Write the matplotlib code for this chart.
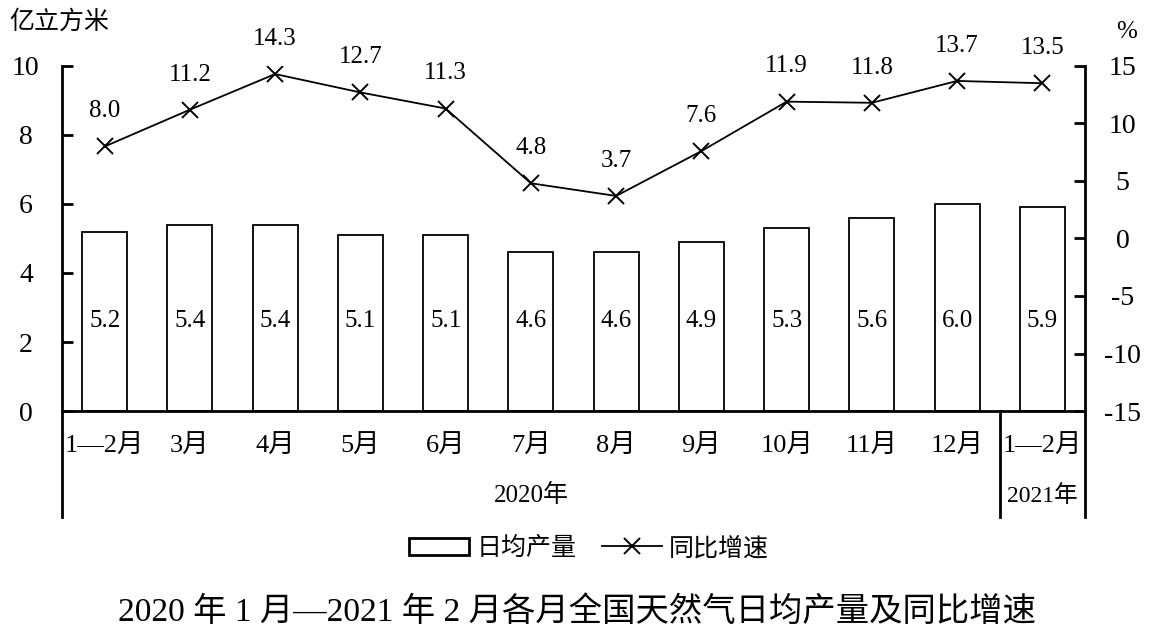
import matplotlib
matplotlib.use("Agg")
import matplotlib.pyplot as plt
import numpy as np
from matplotlib.patches import Rectangle
from matplotlib.lines import Line2D

plt.rcParams['font.family'] = ['Liberation Serif', 'Noto Sans CJK SC']
plt.rcParams['axes.unicode_minus'] = False

months = ['1—2月', '3月', '4月', '5月', '6月', '7月', '8月', '9月', '10月', '11月', '12月', '1—2月']
output = [5.2, 5.4, 5.4, 5.1, 5.1, 4.6, 4.6, 4.9, 5.3, 5.6, 6.0, 5.9]   # 亿立方米
growth = [8.0, 11.2, 14.3, 12.7, 11.3, 4.8, 3.7, 7.6, 11.9, 11.8, 13.7, 13.5]  # %
years = ['2020年', '2021年']
left_ticks = [0, 2, 4, 6, 8, 10]
right_ticks = [-15, -10, -5, 0, 5, 10, 15]

fig = plt.figure(figsize=(11.55, 6.4), dpi=100)
ax = fig.add_axes([0.0537, 0.3578, 0.8857, 0.5391])
ax2 = ax.twinx()

x = np.arange(len(months))
ax.bar(x, output, width=0.53, facecolor='white', edgecolor='black', linewidth=1.3, zorder=2)
for xi, v in zip(x, output):
    ax.text(xi, 2.6, f'{v:.1f}', ha='center', va='center', fontsize=18)

ax2.plot(x, growth, color='black', linewidth=1.3, marker='x', markersize=11,
         markeredgewidth=1.4, zorder=3)
for xi, v in zip(x, growth):
    ax2.text(xi, v + 2.1, f'{v:.1f}', ha='center', va='bottom', fontsize=18)

ax.set_xlim(-0.5, len(months) - 0.5)
ax.set_ylim(0, 10)
ax2.set_ylim(-15, 15)
ax.set_yticks(left_ticks)
ax2.set_yticks(right_ticks)
ax.set_xticks(x)
ax.set_xticklabels(months, fontsize=19)
ax.tick_params(axis='x', length=0, pad=17)
ax.tick_params(axis='y', direction='in', length=8, width=2, labelsize=20, pad=26)
ax2.tick_params(axis='y', direction='in', length=8, width=2, labelsize=20, pad=27)
for lab in ax.get_yticklabels() + ax2.get_yticklabels():
    lab.set_horizontalalignment('center')

for a in (ax, ax2):
    a.spines['top'].set_visible(False)
    for s in ('left', 'right', 'bottom'):
        a.spines[s].set_linewidth(2)
ax.spines['right'].set_visible(False)
ax2.spines['left'].set_visible(False)
ax2.spines['bottom'].set_visible(False)

# group separators below the category axis
trans = ax.get_xaxis_transform()
low = -0.307
for xs in (-0.5, len(months) - 1.5, len(months) - 0.5):
    ax.plot([xs, xs], [0, low], color='black', linewidth=2, transform=trans,
            clip_on=False)
ax.text((-0.5 + len(months) - 1.5) / 2, -0.245, years[0], transform=trans,
        ha='center', va='center', fontsize=18)
ax.text(len(months) - 1, -0.245, years[1], transform=trans,
        ha='center', va='center', fontsize=17)

fig.text(0.008, 0.966, '亿立方米', fontsize=18, ha='left', va='center')
fig.text(0.975, 0.95, '%', fontsize=18, ha='center', va='center')

handles = [Rectangle((0, 0), 1, 1, facecolor='white', edgecolor='black', linewidth=2),
           Line2D([], [], color='black', linewidth=1.3, marker='x', markersize=11,
                  markeredgewidth=1.4)]
fig.legend(handles, ['日均产量', '同比增速'], loc='center', bbox_to_anchor=(0.51, 0.143),
           ncol=2, frameon=False, fontsize=18, handlelength=2.4, columnspacing=1.0,
           handletextpad=0.3)

fig.text(0.5, 0.044, '2020 年 1 月—2021 年 2 月各月全国天然气日均产量及同比增速',
         fontsize=24, fontweight='medium', ha='center', va='center')

fig.savefig('out.png', dpi=100)
